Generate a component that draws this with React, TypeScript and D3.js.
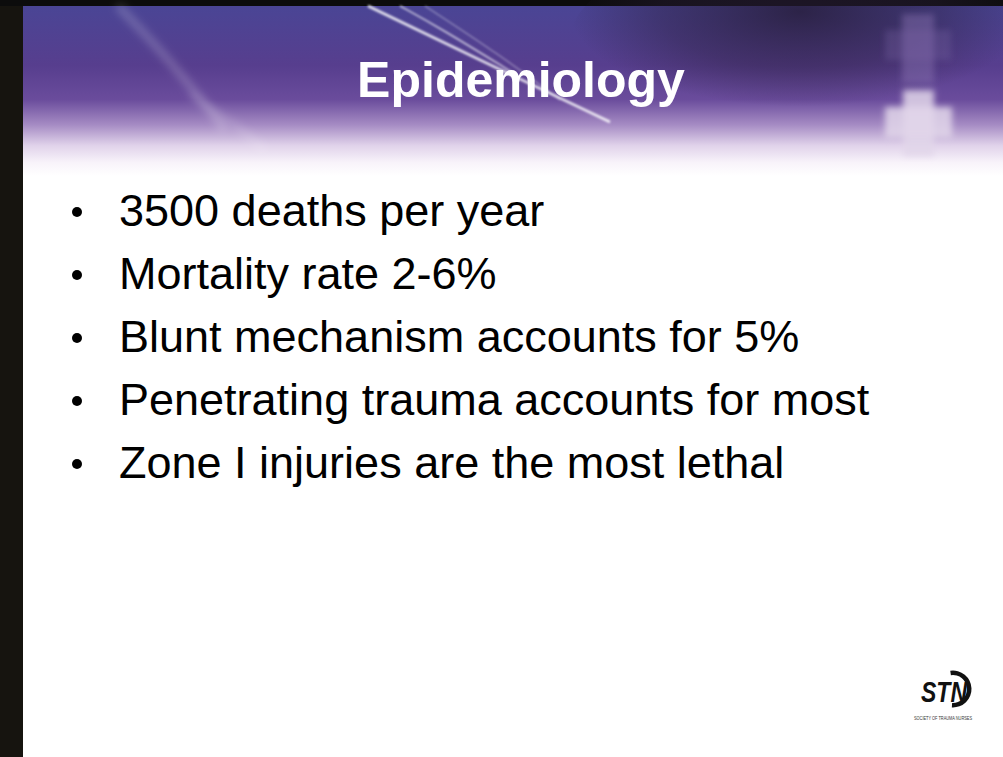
import { useRef, useEffect } from 'react';
import * as d3 from 'd3';

const W = 1003;
const H = 757;

const titleText = 'Epidemiology';
const bullets = [
  '3500 deaths per year',
  'Mortality rate 2-6%',
  'Blunt mechanism accounts for 5%',
  'Penetrating trauma accounts for most',
  'Zone I injuries are the most lethal',
];
const logoMark = 'STN';
const logoCaption = 'SOCIETY OF TRAUMA NURSES';

const App = () => {
  const svgRef = useRef<SVGSVGElement | null>(null);

  useEffect(() => {
    if (!svgRef.current) return;
    const svg = d3.select(svgRef.current);
    svg.selectAll('*').remove();

    const defs = svg.append('defs');

    const head = defs.append('linearGradient')
      .attr('id', 'head-grad')
      .attr('x1', 0).attr('y1', 0).attr('x2', 0).attr('y2', 1);
    [
      [0, '#4a4595'],
      [0.35, '#573e8e'],
      [0.55, '#6a4c9c'],
      [0.7, '#a68cc4'],
      [0.82, '#e0d2ea'],
      [0.92, '#f8f3fa'],
      [1, '#ffffff'],
    ].forEach(([o, c]) => head.append('stop').attr('offset', o).attr('stop-color', c));

    const dark = defs.append('radialGradient')
      .attr('id', 'dark-grad')
      .attr('cx', 0.5).attr('cy', 0.35).attr('r', 0.5);
    dark.append('stop').attr('offset', 0).attr('stop-color', '#22182e').attr('stop-opacity', 0.75);
    dark.append('stop').attr('offset', 0.6).attr('stop-color', '#2a1e3a').attr('stop-opacity', 0.4);
    dark.append('stop').attr('offset', 1).attr('stop-color', '#2a1e3a').attr('stop-opacity', 0);

    const blur = defs.append('filter').attr('id', 'soft').attr('x', '-20%').attr('y', '-20%').attr('width', '140%').attr('height', '140%');
    blur.append('feGaussianBlur').attr('stdDeviation', 3);
    const blur2 = defs.append('filter').attr('id', 'soft2');
    blur2.append('feGaussianBlur').attr('stdDeviation', 1);
    const blur3 = defs.append('filter').attr('id', 'soft3').attr('x', '-30%').attr('y', '-30%').attr('width', '160%').attr('height', '160%');
    blur3.append('feGaussianBlur').attr('stdDeviation', 4);

    // page frame
    svg.append('rect').attr('width', W).attr('height', H).attr('fill', '#ffffff');
    svg.append('rect').attr('x', 0).attr('y', 0).attr('width', 23).attr('height', H).attr('fill', '#16140f');
    svg.append('rect').attr('x', 0).attr('y', 0).attr('width', W).attr('height', 6).attr('fill', '#0c0c0c');

    // header band
    const hx = 23, hy = 6, hh = 170;
    svg.append('rect').attr('x', hx).attr('y', hy).attr('width', W - hx).attr('height', hh)
      .attr('fill', 'url(#head-grad)');
    svg.append('ellipse').attr('cx', 800).attr('cy', 40).attr('rx', 230).attr('ry', 95)
      .attr('fill', 'url(#dark-grad)');

    const line = d3.line().curve(d3.curveBasis);

    // wide soft streaks on the left
    const haze = svg.append('g').attr('filter', 'url(#soft3)');
    [
      { p: [[118, 6], [170, 60], [225, 130]], w: 7, o: 0.22 },
      { p: [[190, 95], [230, 120], [265, 150]], w: 6, o: 0.15 },
    ].forEach((s) => {
      haze.append('path').attr('d', line(s.p as [number, number][]))
        .attr('fill', 'none').attr('stroke', '#ffffff')
        .attr('stroke-width', s.w).attr('stroke-opacity', s.o);
    });

    // bright streaks across the title
    const streaks = svg.append('g').attr('filter', 'url(#soft2)');
    [
      { p: [[368, 6], [480, 60], [610, 122]], w: 2.5, o: 0.85 },
      { p: [[400, 6], [440, 28], [515, 74]], w: 1.5, o: 0.7 },
      { p: [[425, 6], [500, 55], [560, 100]], w: 1.2, o: 0.4 },
    ].forEach((s) => {
      streaks.append('path').attr('d', line(s.p as [number, number][]))
        .attr('fill', 'none').attr('stroke', '#ffffff')
        .attr('stroke-width', s.w).attr('stroke-opacity', s.o);
    });

    // faint cross on the right
    const cross = svg.append('g').attr('filter', 'url(#soft)');
    cross.append('rect').attr('x', 902).attr('y', 14).attr('width', 32).attr('height', 70)
      .attr('fill', '#8a74b4').attr('opacity', 0.45);
    cross.append('rect').attr('x', 885).attr('y', 30).attr('width', 66).attr('height', 30)
      .attr('fill', '#7a64a4').attr('opacity', 0.3);
    cross.append('rect').attr('x', 903).attr('y', 90).attr('width', 31).attr('height', 66)
      .attr('fill', '#e2d6ea').attr('opacity', 0.85);
    cross.append('rect').attr('x', 885).attr('y', 107).attr('width', 67).attr('height', 31)
      .attr('fill', '#e2d6ea').attr('opacity', 0.85);

    // title
    svg.append('text')
      .attr('x', 521).attr('y', 97)
      .attr('text-anchor', 'middle')
      .attr('font-family', 'Liberation Sans, Arial, sans-serif')
      .attr('font-weight', 'bold')
      .attr('font-size', 50)
      .attr('fill', '#ffffff')
      .text(titleText);

    // bullets
    const y = d3.scaleLinear().domain([0, bullets.length - 1]).range([226, 478]);
    const rows = svg.append('g')
      .attr('font-family', 'Liberation Sans, Arial, sans-serif')
      .attr('fill', '#000000');
    bullets.forEach((b, i) => {
      rows.append('circle').attr('cx', 77).attr('cy', y(i) - 14).attr('r', 5);
      rows.append('text').attr('x', 119).attr('y', y(i)).attr('font-size', 45).text(b);
    });

    // logo
    const logo = svg.append('g');
    const arc = d3.arc();
    logo.append('path')
      .attr('transform', 'translate(953,689)')
      .attr('d', arc({ innerRadius: 14, outerRadius: 18.5, startAngle: -0.15, endAngle: Math.PI * 1.02 }) as string)
      .attr('fill', '#111111');
    logo.append('text')
      .attr('x', 921).attr('y', 702)
      .attr('textLength', 46).attr('lengthAdjust', 'spacingAndGlyphs')
      .attr('font-family', 'Liberation Sans, Arial, sans-serif')
      .attr('font-weight', 'bold').attr('font-style', 'italic')
      .attr('font-size', 30)
      .attr('fill', '#111111')
      .text(logoMark);
    logo.append('text')
      .attr('x', 914).attr('y', 720)
      .attr('textLength', 58).attr('lengthAdjust', 'spacingAndGlyphs')
      .attr('font-family', 'Liberation Sans, Arial, sans-serif')
      .attr('font-size', 6)
      .attr('fill', '#333333')
      .text(logoCaption);
  }, []);

  return (
    <div style={{ position: 'fixed', left: 0, top: 0, width: W, height: H }}>
      <svg ref={svgRef} width={W} height={H} style={{ display: 'block' }} />
    </div>
  );
};

export default App;
